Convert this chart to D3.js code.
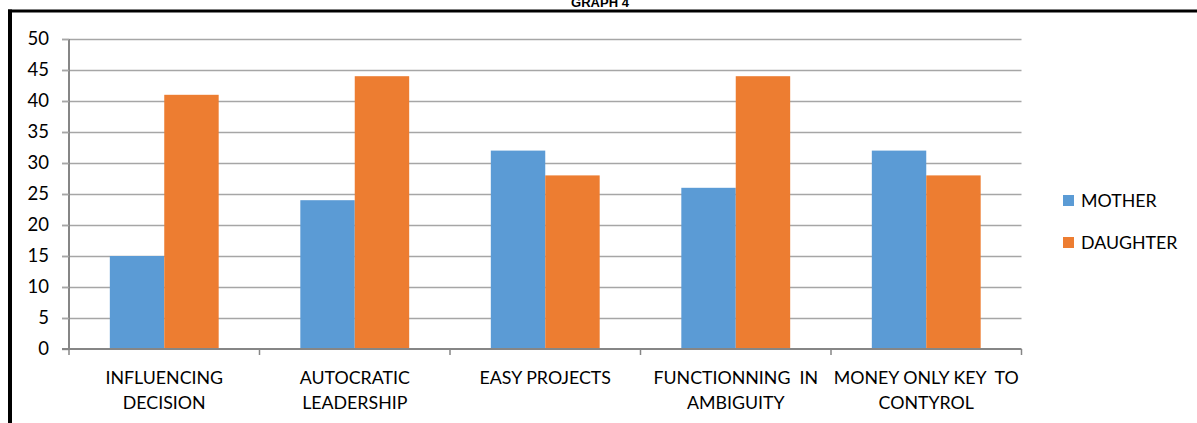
<!DOCTYPE html>
<html>
<head>
<meta charset="utf-8">
<script src="https://cdn.jsdelivr.net/npm/d3@7"></script>
<style>
  html, body { margin: 0; padding: 0; background: #fff; }
  svg { display: block; }
  text { font-family: Lato, "Open Sans", sans-serif; fill: #000; }
</style>
</head>
<body>
<svg id="chart" width="1197" height="423"></svg>
<script>
// Survey responses per leadership trait
const categories = [
  "INFLUENCING DECISION",
  "AUTOCRATIC LEADERSHIP",
  "EASY PROJECTS",
  "FUNCTIONNING  IN AMBIGUITY",
  "MONEY ONLY KEY  TO CONTYROL"
];
const categoryLines = [
  ["INFLUENCING", "DECISION"],
  ["AUTOCRATIC", "LEADERSHIP"],
  ["EASY PROJECTS"],
  ["FUNCTIONNING  IN", "AMBIGUITY"],
  ["MONEY ONLY KEY  TO", "CONTYROL"]
];
const seriesNames = ["MOTHER", "DAUGHTER"];
const motherValues = [15, 24, 32, 26, 32];
const daughterValues = [41, 44, 28, 44, 28];
const yTicks = [0, 5, 10, 15, 20, 25, 30, 35, 40, 45, 50];
const colors = ["#5B9BD5", "#ED7D31"];

const svg = d3.select("#chart");

// frame lines (top and left)
svg.append("line").attr("x1", 8).attr("x2", 1197).attr("y1", 11).attr("y2", 11)
  .attr("stroke", "#000").attr("stroke-width", 3);
svg.append("line").attr("x1", 10).attr("x2", 10).attr("y1", 9.5).attr("y2", 423)
  .attr("stroke", "#000").attr("stroke-width", 4);

// title, partly above the frame
svg.append("text").attr("x", 600).attr("y", 7).attr("text-anchor", "middle")
  .style("font-family", "'Liberation Sans', Arial, sans-serif")
  .style("font-weight", "bold").style("font-size", "13px").text("GRAPH 4");

const plot = { left: 69, right: 1021.5, top: 39, bottom: 349 };

const x = d3.scaleBand().domain(categories).range([plot.left, plot.right]);
const xInner = d3.scaleBand().domain(seriesNames)
  .range([0, x.bandwidth()]).paddingOuter(0.75).paddingInner(0);
const y = d3.scaleLinear().domain([0, 50]).range([plot.bottom, plot.top]);

// horizontal gridlines
const grid = svg.append("g");
grid.selectAll("line").data(yTicks.filter(t => t > 0)).join("line")
  .attr("x1", plot.left - 7).attr("x2", plot.right)
  .attr("y1", d => Math.round(y(d)) + 0.5).attr("y2", d => Math.round(y(d)) + 0.5)
  .attr("stroke", "#A6A6A6").attr("stroke-width", 1.5);

// bars
const rows = categories.map((c, i) => ({ c, vals: [motherValues[i], daughterValues[i]] }));
const groups = svg.append("g").selectAll("g").data(rows).join("g")
  .attr("transform", d => `translate(${x(d.c)},0)`);
groups.selectAll("rect").data(d => d.vals.map((v, j) => ({ v, s: seriesNames[j], j })))
  .join("rect")
  .attr("x", d => xInner(d.s))
  .attr("width", xInner.bandwidth())
  .attr("y", d => y(d.v))
  .attr("height", d => y(0) - y(d.v))
  .attr("fill", d => colors[d.j]);

// y axis
const yAxis = svg.append("g").attr("transform", `translate(${plot.left},0)`)
  .call(d3.axisLeft(y).tickValues(yTicks).tickSize(7).tickPadding(13).tickFormat(d3.format("d")));
yAxis.select(".domain").attr("stroke", "#868686").attr("stroke-width", 2)
  .attr("d", `M0,${plot.top}V${plot.bottom}`);
yAxis.selectAll(".tick line").attr("stroke", "#A6A6A6").attr("stroke-width", 1.5);
yAxis.selectAll(".tick text").style("font-size", "18.5px").style("font-family", "Lato, sans-serif")
  .attr("fill", "#000");

// x axis
const xAxis = svg.append("g").attr("transform", `translate(0,${plot.bottom})`)
  .call(d3.axisBottom(x).tickSize(0).tickFormat(""));
xAxis.select(".domain").attr("stroke", "#868686").attr("stroke-width", 2)
  .attr("d", `M${plot.left - 7},0H${plot.right}`);
const bounds = categories.map(c => x(c)).concat([x(categories[categories.length - 1]) + x.bandwidth()]);
xAxis.append("g").selectAll("line").data(bounds).join("line")
  .attr("x1", d => d).attr("x2", d => d).attr("y1", 0).attr("y2", 6)
  .attr("stroke", "#868686").attr("stroke-width", 1.5);

// category labels
const labels = svg.append("g").selectAll("text").data(categories).join("text")
  .attr("text-anchor", "middle")
  .attr("xml:space", "preserve")
  .style("white-space", "pre")
  .style("font-size", "17.8px");
labels.each(function (c, i) {
  const t = d3.select(this);
  categoryLines[i].forEach((line, k) => {
    t.append("tspan").attr("x", x(c) + x.bandwidth() / 2).attr("y", 383.5 + k * 25).text(line);
  });
});

// legend
const legend = svg.append("g").selectAll("g").data(seriesNames).join("g")
  .attr("transform", (d, i) => `translate(1063,${195 + i * 42})`);
legend.append("rect").attr("width", 11).attr("height", 11).attr("fill", (d, i) => colors[i]);
legend.append("text").attr("x", 18).attr("y", 11.5).style("font-size", "17.8px").text(d => d);
</script>
</body>
</html>
